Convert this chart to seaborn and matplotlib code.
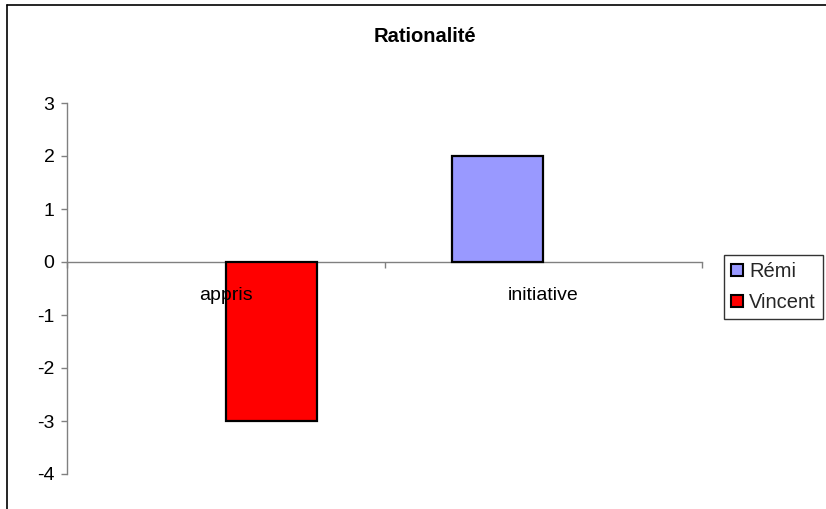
import matplotlib
matplotlib.use("Agg")
import matplotlib.pyplot as plt
import seaborn as sns
import pandas as pd
from matplotlib.lines import Line2D

categories = ["appris", "initiative"]
series = ["Rémi", "Vincent"]
remi_values = [0, 2]
vincent_values = [-3, 0]
colors = ["#9999FF", "#FF0000"]
y_ticks = [-4, -3, -2, -1, 0, 1, 2, 3]
title = "Rationalité"

rows = []
for c, v in zip(categories, remi_values):
    rows.append({"cat": c, "val": v, "series": series[0]})
for c, v in zip(categories, vincent_values):
    rows.append({"cat": c, "val": v, "series": series[1]})
df = pd.DataFrame(rows)

sns.set_theme(style="white")
plt.rcParams["font.family"] = ["Liberation Sans", "DejaVu Sans"]

fig = plt.figure(figsize=(8.26, 5.09), dpi=100)
ax = fig.add_axes([67/826, 1-474/509, (702-67)/826, (474-103)/509])

sns.barplot(data=df, x="cat", y="val", hue="series", order=categories,
            hue_order=series, palette=colors, saturation=1, width=0.574,
            edgecolor="black", linewidth=1.6, ax=ax, errorbar=None)

for p in ax.patches:
    if abs(p.get_height()) < 1e-9:
        p.set_linewidth(0)

ax.set_xlim(-0.5, 1.5)
ax.set_ylim(-4, 3)
ax.set_yticks(y_ticks)
ax.set_yticklabels([str(t) for t in y_ticks], fontsize=14, color="black")
ax.set_xlabel("")
ax.set_ylabel("")

ax.spines["top"].set_visible(False)
ax.spines["right"].set_visible(False)
ax.spines["bottom"].set_position(("data", 0))
for s in ["left", "bottom"]:
    ax.spines[s].set_color("#808080")
    ax.spines[s].set_linewidth(1.0)
ax.spines["bottom"].set_zorder(0.5)

ax.set_xticks([-0.5, 0.5, 1.5])
ax.set_xticklabels(["", "", ""])
ax.set_xticks([0, 1], minor=True)
ax.set_xticklabels(categories, minor=True, fontsize=14, color="black")
ax.tick_params(axis="x", which="major", bottom=True, direction="out", length=4,
               color="#808080", width=1)
ax.tick_params(axis="x", which="minor", bottom=True, length=0, pad=18)
ax.tick_params(axis="y", direction="out", length=4, color="#808080", width=1,
               pad=5, left=True)
ax.xaxis.set_zorder(3)

fig.text(425/826, 1-37/509, title, fontsize=14.5, fontweight="bold",
         ha="center", va="center", color="black")

handles, labels = ax.get_legend_handles_labels()
if ax.get_legend() is not None:
    ax.get_legend().remove()
leg = fig.legend(handles, labels, loc="upper left",
                 bbox_to_anchor=(724/826, 1-255/509), frameon=True,
                 fontsize=14.5, handlelength=0.6, handleheight=0.6,
                 handletextpad=0.3, labelspacing=0.6, borderpad=0.35,
                 borderaxespad=0, fancybox=False)
leg.get_frame().set_edgecolor("black")
leg.get_frame().set_linewidth(1.0)
for h in leg.legend_handles:
    h.set_edgecolor("black")
    h.set_linewidth(1.5)

fig.add_artist(Line2D([7/826, 7/826], [0, 1-5/509], transform=fig.transFigure,
                      color="black", linewidth=1.2))
fig.add_artist(Line2D([7/826, 1], [1-5/509, 1-5/509], transform=fig.transFigure,
                      color="black", linewidth=1.2))

fig.savefig("out.png", dpi=100)
